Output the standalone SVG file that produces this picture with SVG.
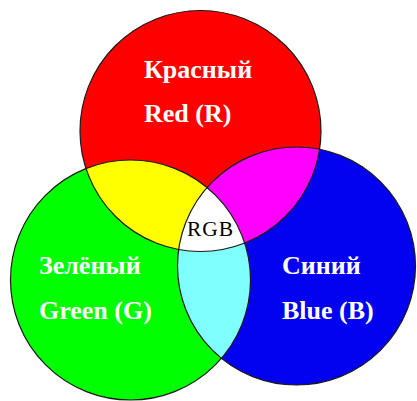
<svg xmlns="http://www.w3.org/2000/svg" width="417" height="401" viewBox="0 0 417 401">
<defs>
<style>
.lbl{font-family:"Liberation Serif","Times New Roman",serif;font-weight:bold;font-size:26px;fill:#ffffff}
.rgb{font-family:"Liberation Serif","Times New Roman",serif;font-size:21.5px;fill:#000000}
.edge{fill:none;stroke:#1a1a1a;stroke-width:1.2}
</style>
<clipPath id="cR"><circle cx="200.5" cy="131" r="120.5"/></clipPath>
<clipPath id="cG"><circle cx="130.5" cy="280" r="120"/></clipPath>
<clipPath id="cB"><circle cx="296.5" cy="266" r="119"/></clipPath>
</defs>
<rect width="417" height="401" fill="#ffffff"/>
<g id="red">
<circle cx="200.5" cy="131" r="120.5" fill="#ff0000"/>
</g>
<g id="green">
<circle cx="130.5" cy="280" r="120" fill="#00ff00"/>
</g>
<g id="blue">
<circle cx="296.5" cy="266" r="119" fill="#0202f0"/>
</g>
<g id="overlaps">
<g id="yellow" clip-path="url(#cR)"><circle cx="130.5" cy="280" r="120" fill="#ffff00"/></g>
<g id="magenta" clip-path="url(#cR)"><circle cx="296.5" cy="266" r="119" fill="#ff00ff"/></g>
<g id="cyan" clip-path="url(#cG)"><circle cx="296.5" cy="266" r="119" fill="#80ffff"/></g>
<g id="white" clip-path="url(#cR)"><g clip-path="url(#cG)"><circle cx="296.5" cy="266" r="119" fill="#ffffff"/></g></g>
</g>
<g id="outlines">
<circle class="edge" cx="200.5" cy="131" r="120.5"/>
<circle class="edge" cx="130.5" cy="280" r="120"/>
<circle class="edge" cx="296.5" cy="266" r="119"/>
</g>
<g id="labels">
<text class="lbl" x="144" y="78">Красный</text>
<text class="lbl" x="144" y="122">Red (R)</text>
<text class="lbl" x="39" y="274">Зелёный</text>
<text class="lbl" x="39" y="319">Green (G)</text>
<text class="lbl" x="282" y="274">Синий</text>
<text class="lbl" x="282" y="319">Blue (B)</text>
<text class="rgb" x="187" y="236" textLength="46" lengthAdjust="spacing">RGB</text>
</g>
</svg>
